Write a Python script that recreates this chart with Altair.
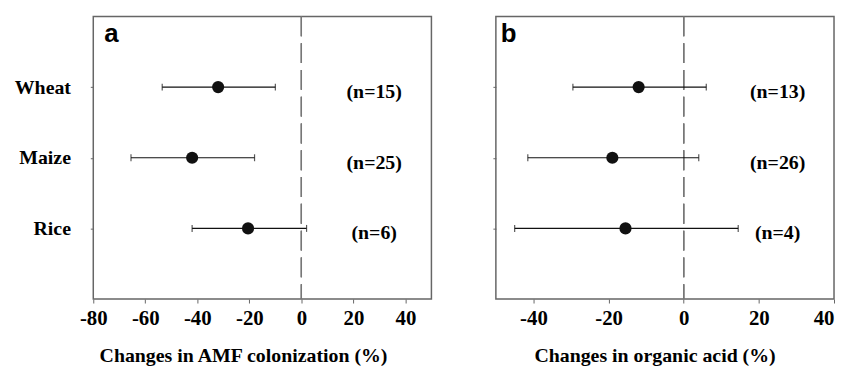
import altair as alt
import pandas as pd

crops = ["Wheat", "Maize", "Rice"]

# Panel a: AMF colonization
amf_mean = [-32.0, -42.0, -20.5]
amf_lo = [-53.5, -65.5, -42.0]
amf_hi = [-10.0, -18.0, 2.0]
amf_n = ["(n=15)", "(n=25)", "(n=6)"]

# Panel b: organic acid
oa_mean = [-12.0, -19.0, -15.5]
oa_lo = [-29.5, -41.5, -45.0]
oa_hi = [6.0, 4.0, 14.5]
oa_n = ["(n=13)", "(n=26)", "(n=4)"]

amf_ticks = [-80, -60, -40, -20, 0, 20, 40]
oa_ticks = [-40, -20, 0, 20, 40]

SERIF = "Liberation Serif"
SANS = "Liberation Sans"
GRAY = "#666666"


def panel(mean, lo, hi, nlab, nx, domain, ticks, title, title_x, letter, letter_x,
          show_labels, flush):
    df = pd.DataFrame({"crop": crops, "mean": mean, "lo": lo, "hi": hi,
                       "n": nlab, "nx": [nx] * len(crops)})
    xscale = alt.Scale(domain=domain, nice=False, zero=False)
    yscale = alt.Scale(type="point", padding=1, domain=crops)
    xaxis = alt.Axis(values=ticks, title=title, grid=False, domain=False,
                     labelExpr="replace(format(datum.value, 'd'), '\u2212', '-')",
                     labelFont=SERIF, labelFontWeight="bold", labelFontSize=21,
                     labelColor="black", labelPadding=5, tickSize=4, tickColor=GRAY,
                     labelFlush=flush,
                     titleFont=SERIF, titleFontWeight="bold", titleFontSize=20,
                     titleColor="black", titleX=title_x, titleY=63,
                     titleAlign="center", titleBaseline="alphabetic")
    yaxis = alt.Axis(title=None, grid=False, domain=False, labels=show_labels,
                     labelFont=SERIF, labelFontWeight="bold", labelFontSize=20,
                     labelColor="black", labelPadding=20, tickSize=3, tickColor=GRAY)
    base = alt.Chart(df)
    zero = base.mark_rule(color="#777777", strokeWidth=1.3, strokeDash=[20, 7]).encode(
        x=alt.datum(0, scale=xscale, axis=xaxis))
    bars = base.mark_rule(color="#111111", strokeWidth=1.2).encode(
        x=alt.X("lo:Q", scale=xscale, axis=xaxis),
        x2="hi:Q",
        y=alt.Y("crop:N", scale=yscale, axis=yaxis, sort=crops))
    cap_lo = base.mark_tick(color="#111111", orient="vertical", size=7, thickness=1.2).encode(
        x=alt.X("lo:Q", scale=xscale), y=alt.Y("crop:N", scale=yscale, sort=crops))
    cap_hi = base.mark_tick(color="#111111", orient="vertical", size=7, thickness=1.2).encode(
        x=alt.X("hi:Q", scale=xscale), y=alt.Y("crop:N", scale=yscale, sort=crops))
    pts = base.mark_point(filled=True, color="#111111", size=150, opacity=1).encode(
        x=alt.X("mean:Q", scale=xscale), y=alt.Y("crop:N", scale=yscale, sort=crops))
    ntext = base.mark_text(font=SERIF, fontWeight="bold", fontSize=20, color="black",
                           align="center", baseline="middle", dy=5).encode(
        x=alt.X("nx:Q", scale=xscale), y=alt.Y("crop:N", scale=yscale, sort=crops),
        text="n:N")
    lab = alt.Chart(pd.DataFrame({"t": [letter]})).mark_text(
        font=SANS, fontWeight="bold", fontSize=26, color="black",
        align="left", baseline="alphabetic").encode(
        x=alt.value(letter_x), y=alt.value(26), text="t:N")
    return alt.layer(zero, bars, cap_lo, cap_hi, pts, ntext, lab).properties(
        width=341, height=285)


pa = panel(amf_mean, amf_lo, amf_hi, amf_n, 28, [-80, 50], amf_ticks,
           "Changes in AMF colonization (%)", 151, "a", 11, True, False)
pb = panel(oa_mean, oa_lo, oa_hi, oa_n, 25, [-50, 40], oa_ticks,
           "Changes in organic acid (%)", 160, "b", 5, False, True)

chart = alt.hconcat(pa, pb, spacing=59, background="white",
                    padding={"left": 5, "top": 5, "right": 0, "bottom": 0}).configure_view(
    stroke=GRAY, strokeWidth=1.5)

chart.save("out.html", embed_options={"renderer": "svg", "actions": False})
